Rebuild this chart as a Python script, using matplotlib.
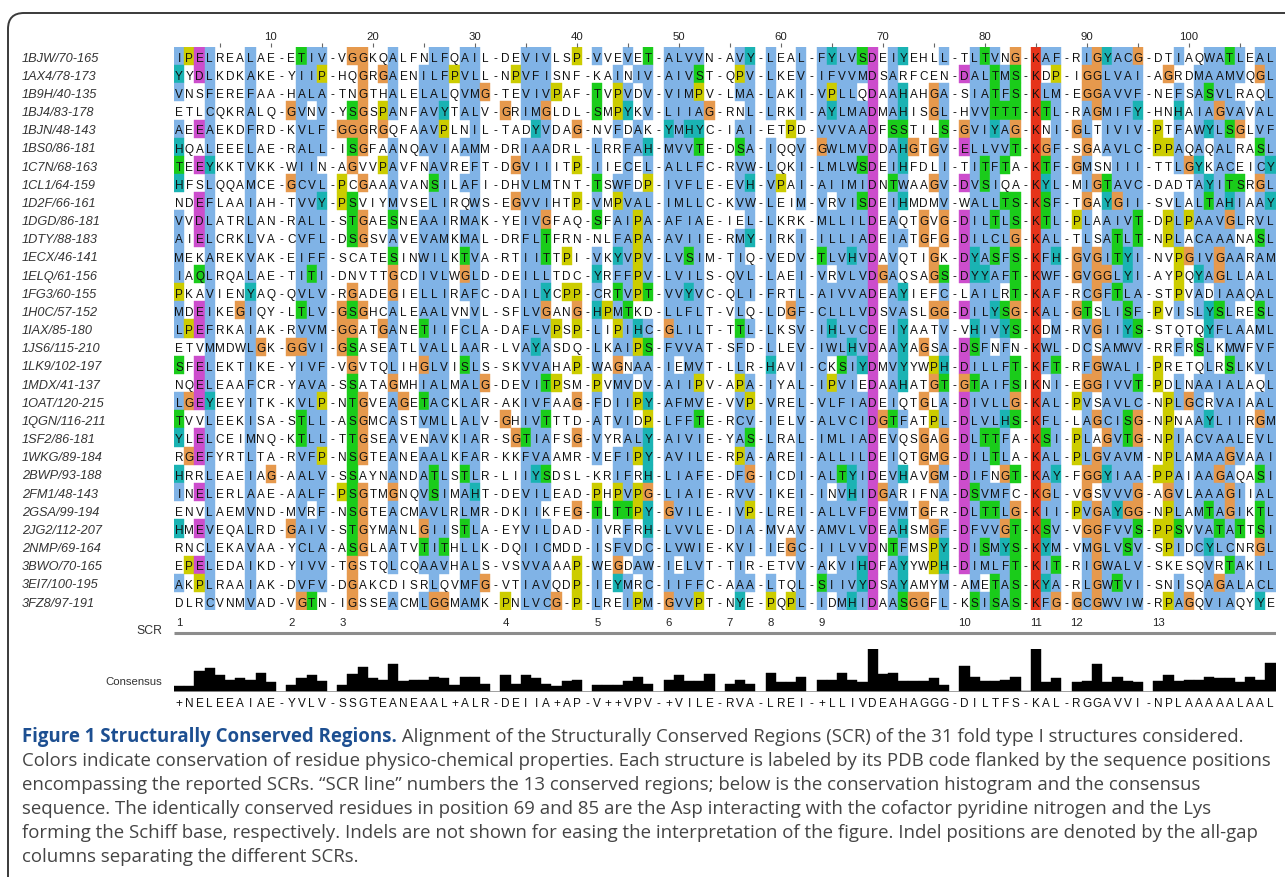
import matplotlib
matplotlib.use("Agg")
import matplotlib.pyplot as plt
from matplotlib.patches import Rectangle, PathPatch
from matplotlib.collections import PatchCollection
from matplotlib.path import Path
from collections import Counter

# ---------------- data ----------------
labels = [
    "1BJW/70-165", "1AX4/78-173", "1B9H/40-135", "1BJ4/83-178", "1BJN/48-143",
    "1BS0/86-181", "1C7N/68-163", "1CL1/64-159", "1D2F/66-161", "1DGD/86-181",
    "1DTY/88-183", "1ECX/46-141", "1ELQ/61-156", "1FG3/60-155", "1H0C/57-152",
    "1IAX/85-180", "1JS6/115-210", "1LK9/102-197", "1MDX/41-137", "1OAT/120-215",
    "1QGN/116-211", "1SF2/86-181", "1WKG/89-184", "2BWP/93-188", "2FM1/48-143",
    "2GSA/99-194", "2JG2/112-207", "2NMP/69-164", "3BWO/70-165", "3EI7/100-195",
    "3FZ8/97-191",
]
sequences = [
    "IPELREALAE-ETIV-VGGKQALFNLFQAIL-DEVIVLSP-VVEVET-ALVVN-AVY-LEAL-FYLVSDEIYEHLL-TLTVNG-KAF-RIGYACG-DTIAQWATLEAL",
    "YYDLKDKAKE-YIIP-HQGRGAENILFPVLL-NPVFISNF-KAINIV-AIVST-QPV-LKEV-IFVVMDSARFCEN-DALTMS-KDP-IGGLVAI-AGRDMAAMVQGL",
    "VNSFEREFAA-HALA-TNGTHALELALQVMG-TEVIVPAF-TVPVDV-VIMPV-LMA-LAKI-VPLLQDAAHAHGA-SIATFS-KLM-EGGAVVF-NEFSASVLRAQL",
    "ETLCQKRALQ-GVNV-YSGSPANFAVYTALV-GRIMGLDL-SMPYKV-LIIAG-RNL-LRKI-AYLMADMAHISGL-HVVTTT-KTL-RAGMIFY-HNHAIAGVAVAL",
    "AEEAEKDFRD-KVLF-GGGRGQFAAVPLNIL-TADYVDAG-NVFDAK-YMHYC-IAI-ETPD-VVVAADFSSTILS-GVIYAG-KNI-GLTIVIV-PTFAWYLSGLVF",
    "HQALEEELAE-RALL-ISGFAANQAVIAAMM-DRIAADRL-LRRFAH-MVVTE-DSA-IQQV-GWLMVDDAHGTGV-ELLVVT-KGF-SGAAVLC-PPAQAQALRASL",
    "TEEYKKTVKK-WIIN-AGVVPAVFNAVREFT-DGVIIITP-IIECEL-ALLFC-RVW-LQKI-LMLWSDEIHFDLI-TITFTA-KTF-GMSNIII-TTLGYKACEICY",
    "HFSLQQAMCE-GCVL-PCGAAAVANSILAFI-DHVLMTNT-TSWFDP-IVFLE-EVH-VPAI-AIIMIDNTWAAGV-DVSIQA-KYL-MIGTAVC-DADTAYITSRGL",
    "NDEFLAAIAH-TVVY-PSVIYMVSELIRQWS-EGVVIHTP-VMPVAL-IMLLC-KVW-LEIM-VRVISDEIHMDMV-WALLTS-KSF-TGAYGII-SVLALTAHIAAY",
    "VVDLATRLAN-RALL-STGAESNEAAIRMAK-YEIVGFAQ-SFAIPA-AFIAE-IEL-LKRK-MLLILDEAQTGVG-DILTLS-KTL-PLAAIVT-DPLPAAVGLRVL",
    "AIELCRKLVA-CVFL-DSGSVAVEVAMKMAL-DRFLTFRN-NLFAPA-AVIIE-RMY-IRKI-ILLIADEIATGFG-DILCLG-KAL-TLSATLT-NPLACAAANASL",
    "MEKAREKVAK-EIFF-SCATESINWILKTVA-RTIITTPI-VKYVPV-LVSIM-TIQ-VEDV-TLVHVDAVQTIGK-DYASFS-KFH-GVGITYI-NVPGIVGAARAM",
    "IAQLRQALAE-TITI-DNVTTGCDIVLWGLD-DEILLTDC-YRFFPV-LVILS-QVL-LAEI-VRVLVDGAQSAGS-DYYAFT-KWF-GVGGLYI-AYPQYAGLLAAL",
    "PKAVIENYAQ-QVLV-RGADEGIELLIRAFC-DAILYCPP-CRTVPT-VVYVC-QLI-FRTL-AIVVADEAYIEFC-LAILRT-KAF-RCGFTLA-STPVADIAAQAL",
    "MDEIKEGIQY-LTLV-GSGHCALEAALVNVL-SFLVGANG-HPMTKD-LLFLT-VLQ-LDGF-CLLLVDSVASLGG-DILYSG-KAL-GTSLISF-PVISLYSLRESL",
    "LPEFRKAIAK-RVVM-GGATGANETIIFCLA-DAFLVPSP-LIPIHC-GLILT-TTL-LKSV-IHLVCDEIYAATV-VHIVYS-KDM-RVGIIYS-STQTQYFLAAML",
    "ETVMMDWLGK-GGVI-GSASEATLVALLAAR-LVAYASDQ-LKAIPS-FVVAT-SFD-LLEV-IWLHVDAAYAGSA-DSFNFN-KWL-DCSAMWV-RRFRSLKMWFVF",
    "SFELEKTIKE-YIVF-VGVTQLIHGLVISLS-SKVVAHAP-WAGNAA-IEMVT-LLR-HAVI-CKSIYDMVYYWPH-DILLFT-KFT-RFGWALI-PRETQLRSLKVL",
    "NQELEAAFCR-YAVA-SSATAGMHIALMALG-DEVITPSM-PVMVDV-AIIPV-APA-IYAL-IPVIEDAAHATGT-GTAIFSIKNI-EGGIVVT-PDLNAAIALAQL",
    "LGEYEEYITK-KVLP-NTGVEAGETACKLAR-AKIVFAAG-FDIIPY-AFMVE-VVP-VREL-VLFIADEIQTGLA-DIVLLG-KAL-PVSAVLC-NPLGCRVAIAAL",
    "TVVLEEKISA-STLL-ASGMCASTVMLLALV-GHIVTTTD-ATVIDP-LFFTE-RCV-IELV-ALVCIDGTFATPL-DLVLHS-KFL-LAGCISG-NPNAAYLIIRGM",
    "YLELCEIMNQ-KTLL-TTGSEAVENAVKIAR-SGTIAFSG-VYRALY-AIVIE-YAS-LRAL-IMLIADEVQSGAG-DLTTFA-KSI-PLAGVTG-NPIACVAALEVL",
    "RGEFYRTLTA-RVFP-NSGTEANEAALKFAR-KKFVAAMR-VEFIPY-AVILE-RPA-AREI-ALLILDEIQTGMG-DILTLA-KAL-PLGVAVM-NPLAMAAGVAAI",
    "HRRLEAEIAG-AALV-SSAYNANDATLSTLR-LIIYSDSL-KRIFRH-LIAFE-DFG-ICDI-ALTYIDEVHAVGM-DIFNGT-KAY-FGGYIAA-PPAIAAGAQASI",
    "INELERLAAE-AALF-PSGTMGNQVSIMAHT-DEVILEAD-PHPVPG-LIAIE-RVV-IKEI-INVHIDGARIFNA-DSVMFC-KGL-VGSVVVG-AGVLAAAGIIAL",
    "ENVLAEMVND-MVRF-NSGTEACMAVLRLMR-DKIIKFEG-TLTTPY-GVILE-IVP-LREI-ALLVFDEVMTGFR-DLTTLG-KII-PVGAYGG-NPLAMTAGIKTL",
    "HMEVEQALRD-GAIV-STGYMANLGIISTLA-EYVILDAD-IVRFRH-LVVLE-DIA-MVAV-AMVLVDEAHSMGF-DFVVGT-KSV-VGGFVVS-PPSVVATATTSI",
    "RNCLEKAVAA-YCLA-ASGLAATVTITHLLK-DQIICMDD-ISFVDC-LVWIE-KVI-IEGC-IILVVDNTFMSPY-DISMYS-KYM-VMGLVSV-SPIDCYLCNRGL",
    "EPELEDAIKD-YIVV-TGSTQLCQAAVHALS-VSVVAAAP-WEGDAW-IELVT-TIR-ETVV-AKVIHDFAYYWPH-DIMLFT-KIT-RIGWALV-SKESQVRTAKIL",
    "AKPLRAAIAK-DVFV-DGAKCDISRLQVMFG-VTIAVQDP-IEYMRC-IIFFC-AAA-LTQL-SIIVYDSAYAMYM-AMETAS-KYA-RLGWTVI-SNISQAGALACL",
    "DLRCVNMVAD-VGTN-IGSSEACMLGGMAMK-PNLVCG-P-LREIPM-GVVPT-NYE-PQPL-IDMHIDAASGGFL-KSISAS-KFG-GCGWVIW-RPAGQVIAQYYE",
]
consensus_text = ("+NELEEAIAE-YVLV-SSGTEANEAAL+ALR-DEIIA+AP-V++VPV-+VILE-RVA-LREI-"
                  "+LLIVDEAHAGGG-DILTFS-KAL-RGGAVVI-NPLAAAAALAAL")
scr_numbers = [str(i) for i in range(1, 14)]
scr_start_columns = [1, 12, 17, 33, 42, 49, 55, 59, 64, 78, 85, 89, 97]
ruler_labels = [10, 20, 30, 40, 50, 60, 70, 80, 90, 100]

caption_title = "Figure 1 Structurally Conserved Regions."
caption_lines = [
    " Alignment of the Structurally Conserved Regions (SCR) of the 31 fold type I structures considered.",
    "Colors indicate conservation of residue physico-chemical properties. Each structure is labeled by its PDB code flanked by the sequence positions",
    "encompassing the reported SCRs. \u201cSCR line\u201d numbers the 13 conserved regions; below is the conservation histogram and the consensus",
    "sequence. The identically conserved residues in position 69 and 85 are the Asp interacting with the cofactor pyridine nitrogen and the Lys",
    "forming the Schiff base, respectively. Indels are not shown for easing the interpretation of the figure. Indel positions are denoted by the all-gap",
    "columns separating the different SCRs.",
]

# ---------------- Clustal X colour scheme (Jalview colours) ----------------
BLUE = (0.5, 0.7, 0.9)
RED = (0.9, 0.2, 0.1)
GREEN = (0.1, 0.8, 0.1)
ORANGE = (0.9, 0.6, 0.3)
CYAN = (0.1, 0.7, 0.7)
PINK = (0.9, 0.5, 0.5)
MAGENTA = (0.8, 0.3, 0.8)
YELLOW = (0.8, 0.8, 0.0)


def column_consensus(col):
    n = len(col)
    cnt = Counter(col)
    p = lambda s: 100.0 * sum(cnt[c] for c in s) / n
    cons = set()
    hyd = p("WLVIMAFCYHP")
    if hyd > 60:
        cons.add("%")
    if hyd > 80:
        cons.add("#")
    if p("ED") > 50:
        cons.add("-")
    if p("KR") > 60:
        cons.add("+")
    if p("G") > 50:
        cons.add("g")
    if p("N") > 50:
        cons.add("n")
    if p("QE") > 50:
        cons.add("q")
    if p("P") > 50:
        cons.add("p")
    if p("TS") > 50:
        cons.add("t")
    for a in "ACDEFGHIKLMNPQRSTVWY":
        if p(a) > 85:
            cons.add(a)
    return cons


def residue_colour(r, cons):
    if r == "G":
        return ORANGE
    if r == "P":
        return YELLOW
    if r in "AILMFWV":
        return BLUE if cons & set("%#ACFHILMVWYPp") else None
    if r == "C":
        if "C" in cons:
            return PINK
        return BLUE if cons & set("%#AFHILMVWYSPp") else None
    if r in "KR":
        return RED if cons & set("+KRQ") else None
    if r == "D":
        return MAGENTA if cons & set("-DEnN") else None
    if r == "E":
        return MAGENTA if cons & set("-DEqQ") else None
    if r == "N":
        return GREEN if cons & set("nND") else None
    if r == "Q":
        return GREEN if cons & set("qQE+KR") else None
    if r in "ST":
        return GREEN if cons & set("tST%#") else None
    if r in "HY":
        return CYAN if cons & set("%#ACFHILMVWYPp") else None
    return None


ncols = len(sequences[0])
nrows = len(sequences)
columns = ["".join(s[j] for s in sequences) for j in range(ncols)]
col_cons = [column_consensus(c) for c in columns]
consensus_pct = []
for c in columns:
    cnt = Counter(ch for ch in c if ch != "-")
    consensus_pct.append(100.0 * max(cnt.values()) / nrows if cnt else 0.0)

# ---------------- layout ----------------
W, H = 1285, 887
fig = plt.figure(figsize=(W / 100, H / 100), dpi=100)
SEQ_FONT = "Liberation Sans"


def add_px_axes(x0, top, w, h, **kw):
    return fig.add_axes([x0 / W, 1 - (top + h) / H, w / W, h / H], **kw)


X0 = 174.0
CW = 10.2
ROW0 = 57.0
RH = 18.17
aln_w = CW * ncols

# background axes for frame
bg = add_px_axes(0, 0, W, H)
bg.set_xlim(0, W)
bg.set_ylim(H, 0)
bg.axis("off")
frame = Path([(8, 878), (8, 30), (8, 14), (24, 14), (W + 5, 14)],
             [Path.MOVETO, Path.LINETO, Path.CURVE3, Path.CURVE3, Path.LINETO])
bg.add_patch(PathPatch(frame, facecolor="none", edgecolor="#3a3a3a", lw=1.4))

# alignment axes
ax = add_px_axes(X0, ROW0 - RH / 2, aln_w, RH * nrows)
ax.set_xlim(0.5, ncols + 0.5)
ax.set_ylim(nrows - 0.5, -0.5)
for s in ax.spines.values():
    s.set_visible(False)

rects, fcs = [], []
for i, seq in enumerate(sequences):
    for j, r in enumerate(seq):
        if r == "-":
            continue
        c = residue_colour(r, col_cons[j])
        if c is not None:
            rects.append(Rectangle((j + 0.5, i - 0.5), 1, 1))
            fcs.append(c)
pc = PatchCollection(rects, facecolors=fcs, edgecolors=fcs, linewidths=0.3)
ax.add_collection(pc)

for i, seq in enumerate(sequences):
    for j, r in enumerate(seq):
        ax.text(j + 1, i + 0.26, r, ha="center", va="baseline",
                fontsize=8.5, family=SEQ_FONT, color="#111111")

# ruler on top
ax.xaxis.tick_top()
ticks = list(range(5, ncols + 1, 5))
ax.set_xticks(ticks)
ax.set_xticklabels([str(t) if t in ruler_labels else "" for t in ticks],
                   fontsize=8.2, family=SEQ_FONT, color="#222")
ax.tick_params(axis="x", length=3, width=0.8, color="#666", pad=1)

# row labels on the left
ax.set_yticks(range(nrows))
ax.set_yticklabels(labels, fontsize=9.2, family=SEQ_FONT, style="italic",
                   color="#333", ha="left")
ax.tick_params(axis="y", length=0, pad=(X0 - 22) * 72 / 100)

# SCR line
ax_scr = add_px_axes(X0, 612, aln_w, 28)
ax_scr.set_xlim(0.5, ncols + 0.5)
ax_scr.set_ylim(1, 0)
ax_scr.axis("off")
for num, col in zip(scr_numbers, scr_start_columns):
    ax_scr.text(col, 0.38, num, ha="center", va="center", fontsize=8.2,
                family=SEQ_FONT, color="#222")
ax_scr.plot([0.5, ncols + 0.5], [0.8, 0.8], color="#8c8c8c", lw=2.2,
            solid_capstyle="butt")
fig.text(162 / W, 1 - 631 / H, "SCR", ha="right", va="center", fontsize=8.8,
         family=SEQ_FONT, color="#333")

# consensus histogram
ax_c = add_px_axes(X0, 650, aln_w, 43)
ax_c.set_xlim(0.5, ncols + 0.5)
ax_c.set_ylim(0, 100)
ax_c.axis("off")
ax_c.axhline(0, color="#9a9a9a", lw=1.2)
ax_c.bar(range(1, ncols + 1), consensus_pct, width=1.0, color="black",
         edgecolor="black", linewidth=0.3)
fig.text(162 / W, 1 - 682 / H, "Consensus", ha="right", va="center",
         fontsize=8.2, family=SEQ_FONT, color="#333")

ax_t = add_px_axes(X0, 696, aln_w, 16)
ax_t.set_xlim(0.5, ncols + 0.5)
ax_t.set_ylim(1, 0)
ax_t.axis("off")
for j, ch in enumerate(consensus_text):
    ax_t.text(j + 1, 0.5, ch, ha="center", va="center", fontsize=8.5,
              family=SEQ_FONT, color="#111111")

# caption
CAP_FONT = "Open Sans"
renderer = fig.canvas.get_renderer()
cap_x = 22
cap_y0 = 737
cap_dy = 24
target_w = 1247 - cap_x
fs = 11.0
t1 = fig.text(cap_x / W, 1 - cap_y0 / H, caption_title, fontsize=fs,
              family=CAP_FONT, weight="bold", color="#1d4f91", va="center")
t2 = fig.text(0, 1 - cap_y0 / H, caption_lines[0], fontsize=fs,
              family=CAP_FONT, color="#444", va="center")
w_tot = t1.get_window_extent(renderer).width + t2.get_window_extent(renderer).width
fs = fs * target_w / w_tot
t1.set_fontsize(fs)
t2.set_fontsize(fs)
w1 = t1.get_window_extent(renderer).width
t2.set_x((cap_x + w1) / W)
for k, line in enumerate(caption_lines[1:], start=1):
    fig.text(cap_x / W, 1 - (cap_y0 + k * cap_dy) / H, line, fontsize=fs,
             family=CAP_FONT, color="#444", va="center")

fig.savefig("out.png", dpi=100)
